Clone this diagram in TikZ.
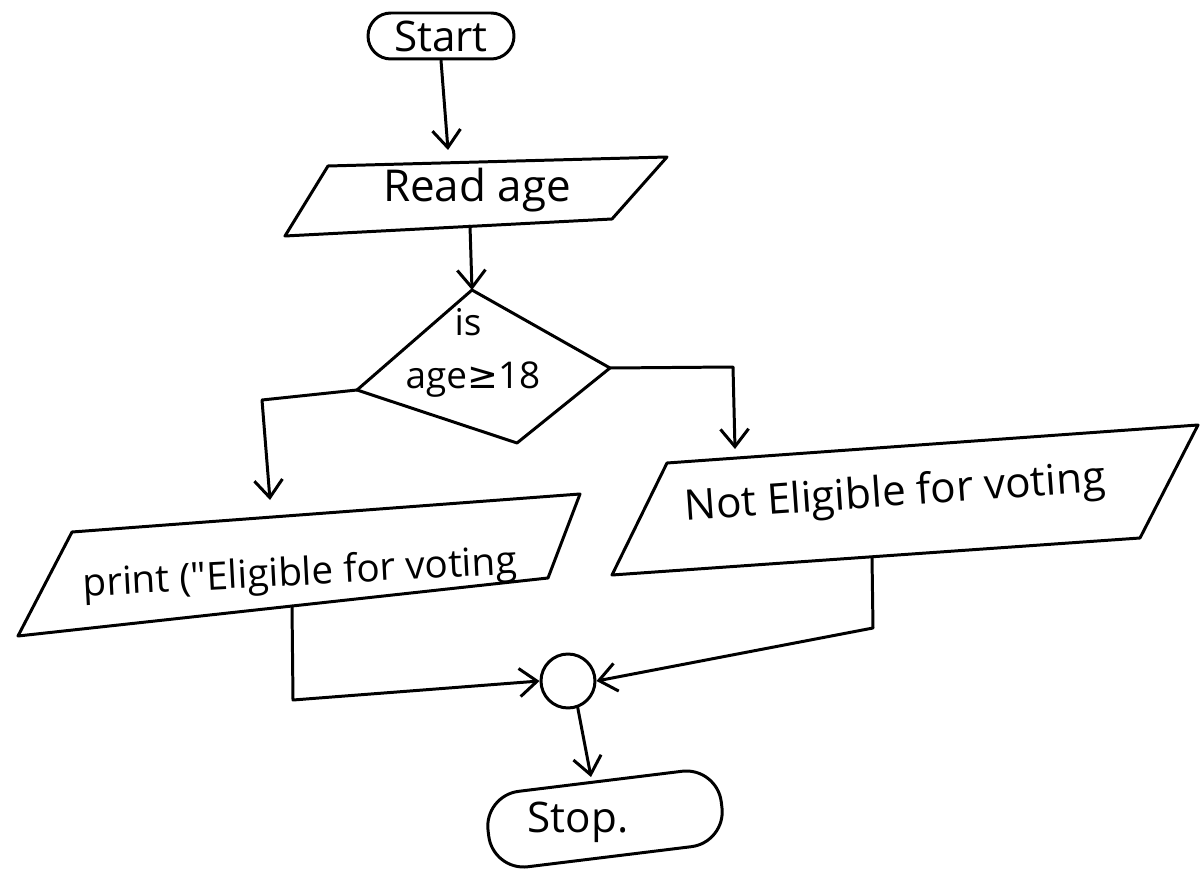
\documentclass[tikz,border=0pt]{standalone}
\usepackage{fontspec}
\setmainfont{Open Sans}
\newfontfamily\symfont{DejaVu Sans}
\usetikzlibrary{arrows.meta}
\begin{document}
\begin{tikzpicture}[x=0.02cm,y=-0.02cm,
  line width=1.7pt, line join=round, line cap=round,
  flow/.style={-{Straight Barb[length=10pt,width=16pt,line width=1.7pt]}},
  txt/.style={font=\fontsize{21}{25}\selectfont, inner sep=0pt},
  bigtxt/.style={font=\fontsize{24}{28}\selectfont, inner sep=0pt},
  terminal/.style={draw, inner sep=0pt},
]
\fill[white] (0,0) rectangle (1200,871);
\useasboundingbox (0,0) rectangle (1200,871);

% terminals and junction
\node[terminal, bigtxt, rounded corners=13pt, minimum width=2.92cm, minimum height=0.92cm] (start) at (441,36) {Start};
\node[terminal, rounded corners=20pt, rotate=7, minimum width=4.7cm, minimum height=1.52cm] (stop) at (605,819) {};
\node[bigtxt] (stoptxt) at (578,822) {Stop.};
\node[draw, circle, minimum size=1.08cm, inner sep=0pt] (join) at (568,681) {};

% input box
\coordinate (r1) at (328,166);
\coordinate (r2) at (667,157);
\coordinate (r3) at (612,219);
\coordinate (r4) at (285,236);
\draw (r1) -- (r2) -- (r3) -- (r4) -- cycle;
\node[txt, font=\fontsize{25}{29}\selectfont] (readtxt) at (477,190) {Read age};

% decision
\coordinate (dT) at (472,290);
\coordinate (dR) at (610,368);
\coordinate (dB) at (517,443);
\coordinate (dL) at (357,390);
\draw (dT) -- (dR) -- (dB) -- (dL) -- cycle;
\node[txt] (istxt) at (468,322) {is};
\node[txt] (agetxt) at (473,380) {age{\symfont ≥}18};

% output: eligible
\coordinate (p1) at (72,532);
\coordinate (p2) at (580,494);
\coordinate (p3) at (548,578);
\coordinate (p4) at (18,636);
\draw (p1) -- (p2) -- (p3) -- (p4) -- cycle;
\node[txt, font=\fontsize{22}{26}\selectfont, rotate=3] (yestxt) at (300,575) {print (\textquotedbl Eligible for voting};

% output: not eligible
\coordinate (q1) at (667,463);
\coordinate (q2) at (1198,425);
\coordinate (q3) at (1140,538);
\coordinate (q4) at (612,575);
\draw (q1) -- (q2) -- (q3) -- (q4) -- cycle;
\node[txt, font=\fontsize{24}{28}\selectfont, rotate=4] (notxt) at (895,495) {Not Eligible for voting};

% connector points
\coordinate (readIn) at (448,150);
\coordinate (readOut) at (470,226);
\coordinate (lBend) at (262,400);
\coordinate (lIn) at (270,500);
\coordinate (rBend) at (733,367);
\coordinate (rIn) at (735,449);
\coordinate (lOut) at (292,606);
\coordinate (lCorner) at (293,700);
\coordinate (rOut) at (872,557);
\coordinate (rCorner) at (873,628);
\coordinate (stopIn) at (591,777);

% connectors
\draw[flow] (start.south) -- (readIn);
\draw[flow] (readOut) -- (dT);
\draw[flow] (dL) -- (lBend) -- (lIn);
\draw[flow] (dR) -- (rBend) -- (rIn);
\draw[flow] (lOut) -- (lCorner) -- (join.west);
\draw[flow] (rOut) -- (rCorner) -- (join.east);
\draw[flow] (join.-70) -- (stopIn);
\end{tikzpicture}
\end{document}
